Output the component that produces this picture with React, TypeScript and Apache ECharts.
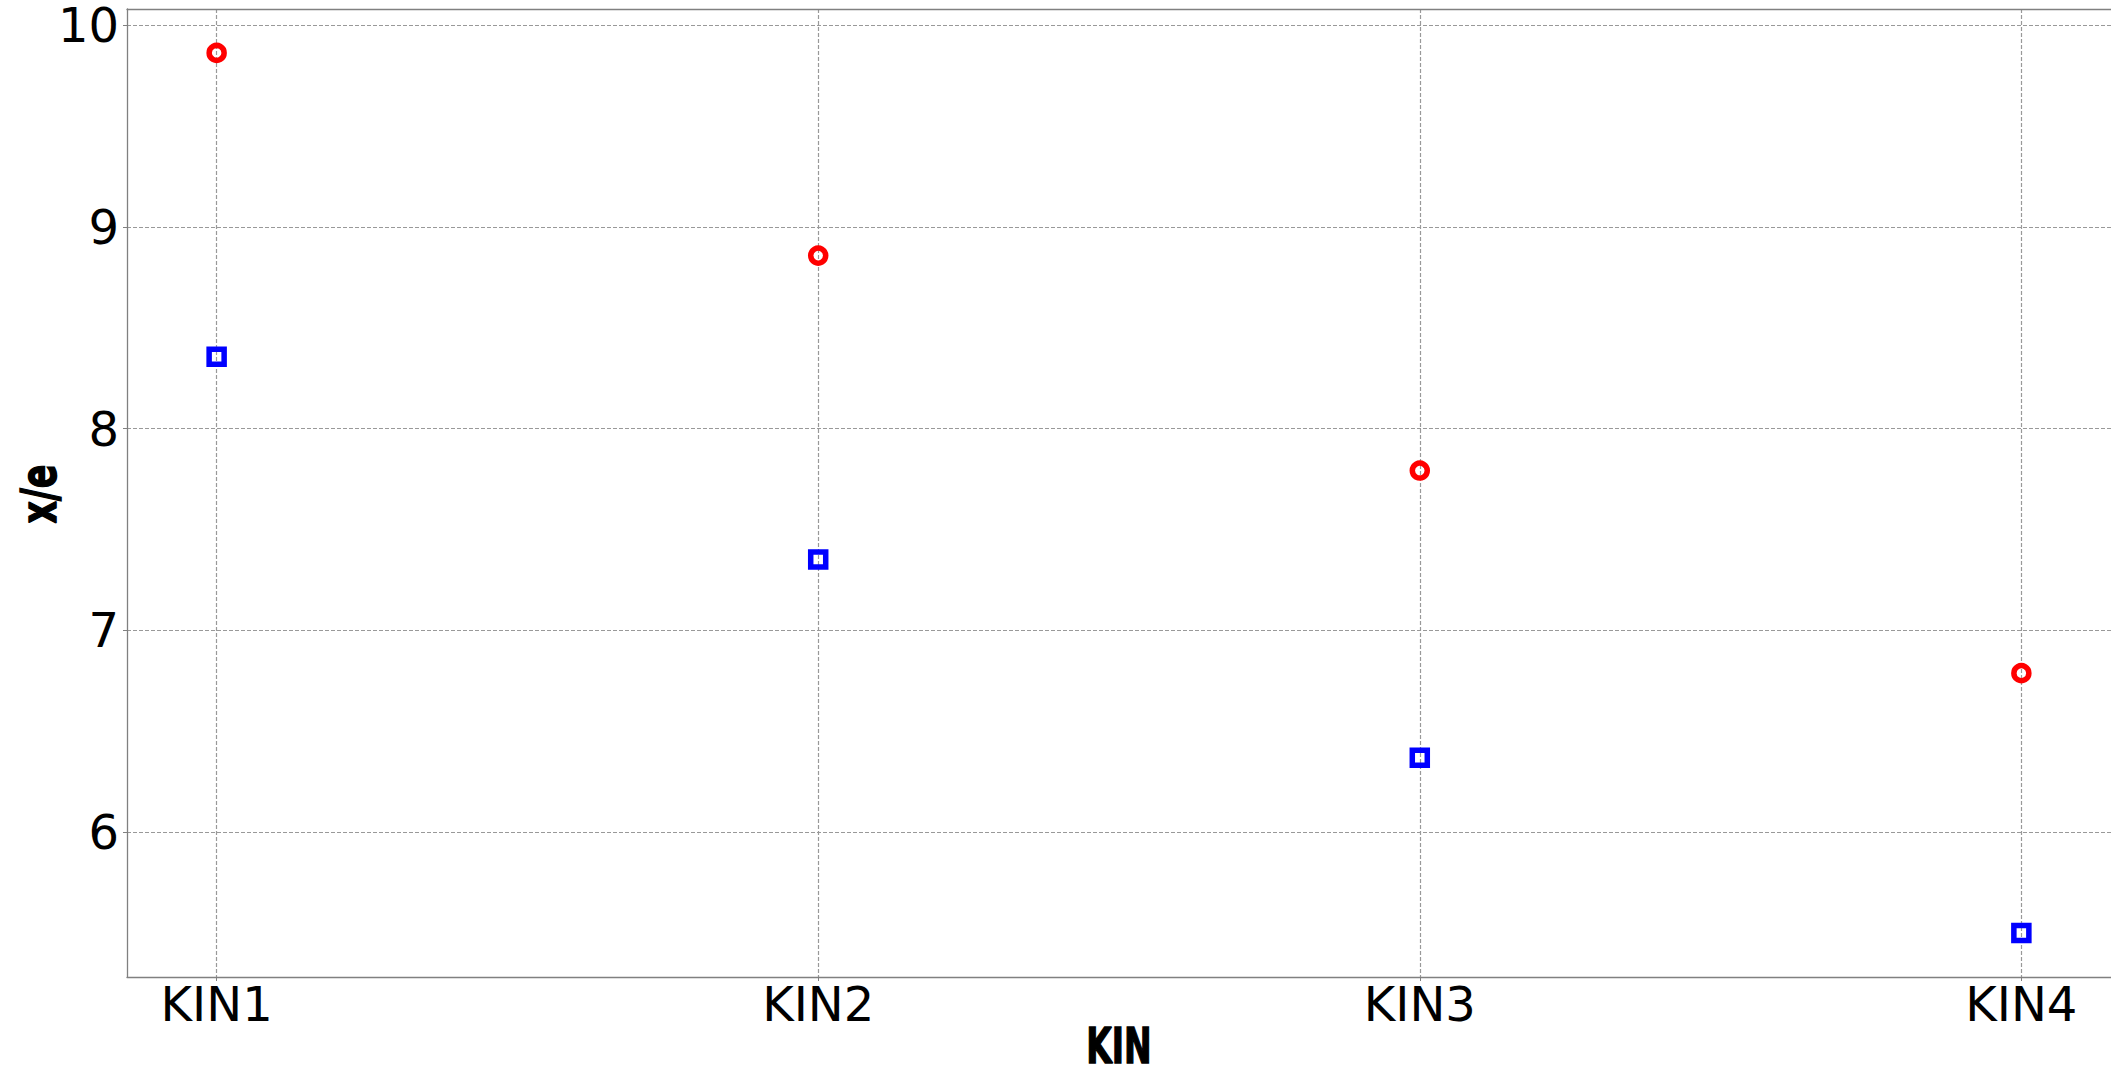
import React, { useEffect, useRef } from "react";
import * as echarts from "echarts";

const categories = ["KIN1", "KIN2", "KIN3", "KIN4"];
const xPositions = [1, 2, 3, 4];
const redSeries = [9.863, 8.858, 7.792, 6.787];
const blueSeries = [8.356, 7.351, 6.368, 5.498];
const yTicks = [6, 7, 8, 9, 10];
const xTitle = "KIN";
const yTitle = "x/e";

export default function App() {
  const ref = useRef<HTMLDivElement>(null);
  useEffect(() => {
    const chart = echarts.init(ref.current!, null, { renderer: "svg" });
    const gridColor = "#999999";
    const axisColor = "#808080";
    const tickFont = { fontFamily: "DejaVu Sans", fontSize: 48, lineHeight: 46, color: "#000" };
    const titleStyle = {
      fontFamily: "DejaVu Sans",
      fontWeight: "bold" as const,
      fontSize: 50,
      lineHeight: 38,
      fill: "#000",
      stroke: "#000",
      lineWidth: 1.5,
      align: "center" as const,
      verticalAlign: "middle" as const,
    };
    chart.setOption({
      animation: false,
      backgroundColor: "#ffffff",
      grid: {
        left: 127,
        top: 9,
        width: 1984,
        height: 968,
        outerBoundsMode: "none",
        containLabel: false,
        show: false,
      },
      graphic: [
        {
          type: "text",
          x: 1119,
          y: 1046,
          scaleX: 0.66,
          style: { ...titleStyle, text: xTitle },
        },
        {
          type: "text",
          x: 39,
          y: 494,
          rotation: Math.PI / 2,
          scaleX: 0.7,
          style: { ...titleStyle, text: yTitle },
        },
      ],
      xAxis: [
        {
          type: "value",
          min: 0.851,
          max: 4.149,
          axisLine: { show: true, lineStyle: { color: axisColor, width: 1.3 } },
          axisTick: { show: true, length: 4, lineStyle: { color: axisColor }, customValues: xPositions },
          axisLabel: {
            ...tickFont,
            margin: 4,
            customValues: xPositions,
            formatter: (v: number) => categories[Math.round(v) - 1] ?? "",
          },
          splitLine: { show: true, lineStyle: { color: gridColor, type: [4, 2], width: 1.2 } },
        },
        {
          type: "value",
          position: "top",
          min: 0.851,
          max: 4.149,
          axisLine: { show: true, onZero: false, lineStyle: { color: axisColor, width: 1.3 } },
          axisTick: { show: false },
          axisLabel: { show: false },
          splitLine: { show: false },
        },
      ],
      yAxis: {
        type: "value",
        min: 5.28,
        max: 10.081,
        axisLine: { show: true, lineStyle: { color: axisColor, width: 1.3 } },
        axisTick: { show: true, length: 4, lineStyle: { color: axisColor }, customValues: yTicks },
        axisLabel: { ...tickFont, margin: 8, customValues: yTicks },
        splitLine: { show: true, lineStyle: { color: gridColor, type: [4, 2], width: 1.2 } },
      },
      series: [
        {
          type: "scatter",
          data: xPositions.map((x, i) => [x, redSeries[i]]),
          symbol: "circle",
          symbolSize: 15,
          itemStyle: { color: "rgba(0,0,0,0)", borderColor: "#ff0000", borderWidth: 5.5, opacity: 1 },
          z: 3,
        },
        {
          type: "scatter",
          data: xPositions.map((x, i) => [x, blueSeries[i]]),
          symbol: "rect",
          symbolSize: 15,
          itemStyle: { color: "rgba(0,0,0,0)", borderColor: "#0000ff", borderWidth: 5.5, opacity: 1 },
          z: 3,
        },
      ],
    });
    return () => chart.dispose();
  }, []);
  return (
    <div
      ref={ref}
      style={{ position: "absolute", left: 0, top: 0, width: 2111, height: 1071 }}
    />
  );
}
